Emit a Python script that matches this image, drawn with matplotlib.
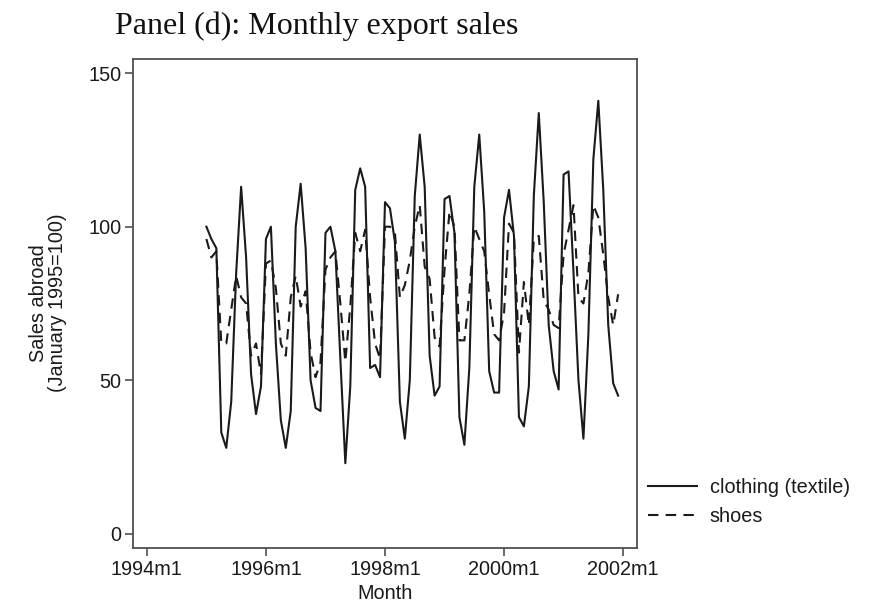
import matplotlib
matplotlib.use("Agg")
import matplotlib.pyplot as plt
import numpy as np

# Months from 1995m1 to 2001m12
start_year = 1995
n_months = 84

clothing = [
    100, 96, 93, 33, 28, 43, 85, 113, 90, 52, 39, 48,      # 1995
    96, 100, 62, 37, 28, 40, 100, 114, 93, 50, 41, 40,     # 1996
    98, 100, 92, 57, 23, 48, 112, 119, 113, 54, 55, 51,    # 1997
    108, 106, 95, 43, 31, 50, 110, 130, 113, 58, 45, 48,   # 1998
    109, 110, 98, 38, 29, 54, 113, 130, 105, 53, 46, 46,   # 1999
    103, 112, 97, 38, 35, 48, 110, 137, 108, 68, 53, 47,   # 2000
    117, 118, 85, 50, 31, 65, 122, 141, 112, 68, 49, 45,   # 2001
]

shoes = [
    96, 90, 92, 62, 62, 73, 84, 77, 75, 58, 62, 52,        # 1995
    88, 89, 80, 62, 58, 77, 84, 74, 79, 59, 51, 56,        # 1996
    86, 90, 92, 75, 56, 74, 98, 92, 99, 77, 62, 57,        # 1997
    100, 100, 98, 77, 81, 89, 100, 107, 87, 83, 64, 61,    # 1998
    86, 105, 100, 63, 63, 78, 100, 96, 92, 78, 65, 63,     # 1999
    72, 101, 98, 59, 82, 68, 96, 97, 76, 73, 68, 67,       # 2000
    91, 99, 107, 77, 75, 85, 107, 103, 91, 77, 68, 78,     # 2001
]

series_labels = ["clothing (textile)", "shoes"]
x_tick_labels = ["1994m1", "1996m1", "1998m1", "2000m1", "2002m1"]
y_ticks = [0, 50, 100, 150]

# month index relative to 1994m1
months = np.arange(n_months) + (start_year - 1994) * 12
x_tick_pos = [0, 24, 48, 72, 96]

W, H = 871, 615
fig = plt.figure(figsize=(W / 100, H / 100), dpi=100)
ax = fig.add_axes([133 / W, 1 - 548 / H, (637 - 133) / W, (548 - 59) / H])

line_col = "#1a1a1a"
ax.plot(months, clothing, color=line_col, lw=1.5, ls="-", label=series_labels[0])
ax.plot(months, shoes, color=line_col, lw=1.5, ls=(0, (5, 3.5)), label=series_labels[1])

ax.set_xlim(-2.8, 98.8)
ax.set_ylim(-4.6, 154.6)
ax.set_xticks(x_tick_pos)
ax.set_xticklabels(x_tick_labels)
ax.set_yticks(y_ticks)

sans = ["Liberation Sans", "DejaVu Sans"]
fs = 14.3
for lab in ax.get_xticklabels() + ax.get_yticklabels():
    lab.set_family(sans)
    lab.set_fontsize(fs)
    lab.set_color("#1a1a1a")

spine_col = "#505050"
for s in ax.spines.values():
    s.set_color(spine_col)
    s.set_linewidth(1.3)
ax.tick_params(axis="both", direction="out", length=6, width=1.2, color=spine_col, pad=2.5)

ax.set_xlabel("Month", family=sans, fontsize=fs, color="#1a1a1a", labelpad=4)
fig.text(48 / W, 1 - 303 / H, "Sales abroad\n(January 1995=100)", rotation=90,
         ha="center", va="center", family=sans, fontsize=fs, color="#1a1a1a",
         linespacing=1.0, multialignment="center")

fig.text(115 / W, 1 - 34 / H, "Panel (d): Monthly export sales",
         family=["Liberation Serif", "DejaVu Serif"], fontsize=23, ha="left",
         va="baseline", color="#111111")

leg = ax.legend(loc="upper left", bbox_to_anchor=(648 / W, 1 - 478 / H),
                bbox_transform=fig.transFigure, frameon=False,
                prop={"family": "Liberation Sans", "size": fs},
                handlelength=2.45, handletextpad=0.65, labelspacing=0.5,
                borderpad=0, borderaxespad=0)
for t in leg.get_texts():
    t.set_color("#1a1a1a")

fig.savefig("out.png", dpi=100)
